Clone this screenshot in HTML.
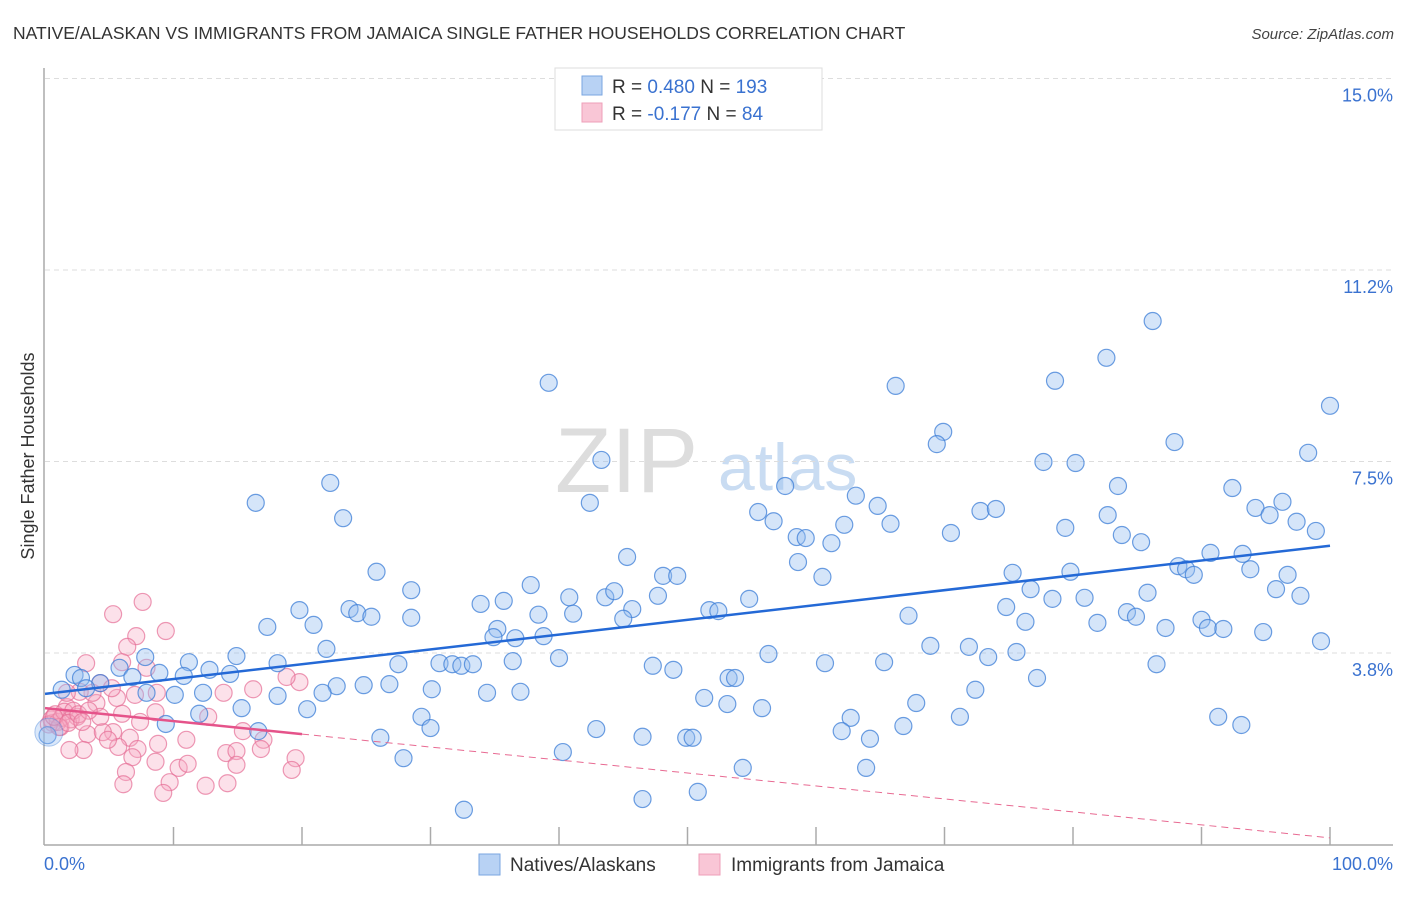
<!DOCTYPE html>
<html><head><meta charset="utf-8"><style>
body{margin:0;background:#fff;font-family:"Liberation Sans",sans-serif}
svg text{font-family:"Liberation Sans",sans-serif}
</style></head><body>
<svg id="chart" width="1406" height="892" viewBox="0 0 1406 892">
<text x="13" y="39" font-size="17.5" fill="#333">NATIVE/ALASKAN VS IMMIGRANTS FROM JAMAICA SINGLE FATHER HOUSEHOLDS CORRELATION CHART</text>
<text x="1394" y="39" font-size="15" fill="#444" font-style="italic" text-anchor="end">Source: ZipAtlas.com</text>
<text transform="translate(34,456) rotate(-90)" font-size="18" fill="#333" text-anchor="middle">Single Father Households</text>
<g>
<text x="555" y="492" font-size="92" fill="#ddd" font-family="Liberation Serif,serif">ZIP</text>
<text x="718" y="490" font-size="66" fill="#c9dcf2">atlas</text>
</g>
<g id="grid"></g>
<g id="axes"></g>
<g id="pink"></g>
<g id="blue"></g>
<g id="trends"></g>
<g>
<rect x="555" y="68" width="267" height="62" fill="#fff" stroke="#ddd"/>
<rect x="582" y="76" width="20" height="19" fill="#b8d2f4" stroke="#7aa6e0"/>
<rect x="582" y="103" width="20" height="19" fill="#f9c6d6" stroke="#ee9fb8"/>
<text x="612" y="93" font-size="19" fill="#333">R = <tspan fill="#3a72d0">0.480</tspan>   N = <tspan fill="#3a72d0">193</tspan></text>
<text x="612" y="120" font-size="19" fill="#333">R = <tspan fill="#3a72d0">-0.177</tspan>   N = <tspan fill="#3a72d0"> 84</tspan></text>
</g>
<g>
<rect x="479" y="854" width="21" height="21" fill="#b8d2f4" stroke="#7aa6e0"/>
<text x="510" y="871" font-size="19" fill="#333">Natives/Alaskans</text>
<rect x="699" y="854" width="21" height="21" fill="#f9c6d6" stroke="#ee9fb8"/>
<text x="731" y="871" font-size="19" fill="#333">Immigrants from Jamaica</text>
</g>
</svg>
<script>
const NS="http://www.w3.org/2000/svg";
const yTicks=[3.75,7.5,11.25,15];
const yTickLabels=["3.8%","7.5%","11.2%","15.0%"];
const xTickVals=[0,10,20,30,40,50,60,70,80,90,100];
const blueX=[86.2,82.6,39.2,66.2,78.6,100,69.9,69.4,87.9,43.3,98.3,77.7,80.2,22.2,57.6,83.5,92.4,63.1,16.4,42.4,64.8,96.3,55.5,72.8,74.0,94.2,95.3,82.7,23.2,56.7,65.8,62.2,97.4,98.9,79.4,70.5,83.8,58.5,59.2,85.3,61.2,45.3,90.7,93.2,58.6,88.2,93.8,25.8,88.8,89.4,48.1,49.2,75.3,60.5,79.8,96.7,37.8,28.5,76.7,85.8,95.8,78.4,80.9,43.6,40.8,44.3,35.7,47.7,33.9,45.7,54.8,19.8,23.7,24.3,51.7,52.4,97.7,74.8,84.2,84.9,28.5,38.4,41.1,67.2,45.0,25.4,20.9,17.3,76.3,81.9,90.0,90.5,87.2,91.7,94.8,35.2,34.9,36.6,38.8,99.3,21.9,68.9,71.9,14.9,56.3,75.6,11.2,18.1,40.0,27.5,30.7,31.7,32.4,33.3,36.4,47.3,48.9,60.7,65.3,73.4,86.5,7.8,5.8,2.3,2.8,4.3,12.8,14.4,6.8,10.8,8.9,77.2,22.7,24.8,26.8,30.1,34.4,37.0,21.6,18.1,1.3,3.2,7.9,10.1,12.3,53.2,53.7,72.4,51.3,67.8,53.1,55.8,20.4,15.3,12.0,29.3,91.3,62.7,71.2,30.0,42.9,46.5,49.9,50.4,62.0,64.2,66.8,93.1,26.1,16.6,9.4,40.3,27.9,54.3,63.9,32.6,46.5,50.8,0.2];
const blueY=[10.25,9.53,9.04,8.98,9.08,8.59,8.08,7.84,7.88,7.53,7.67,7.49,7.47,7.08,7.02,7.02,6.98,6.83,6.69,6.69,6.63,6.71,6.51,6.53,6.57,6.59,6.45,6.45,6.39,6.33,6.28,6.26,6.32,6.14,6.20,6.10,6.06,6.02,6.00,5.92,5.90,5.63,5.71,5.69,5.53,5.45,5.39,5.34,5.39,5.28,5.26,5.26,5.32,5.24,5.34,5.28,5.08,4.98,5.00,4.93,5.00,4.81,4.83,4.84,4.84,4.96,4.77,4.87,4.71,4.61,4.81,4.59,4.61,4.53,4.59,4.57,4.87,4.65,4.55,4.46,4.44,4.50,4.52,4.48,4.42,4.46,4.30,4.26,4.36,4.34,4.40,4.24,4.24,4.22,4.16,4.22,4.06,4.04,4.08,3.98,3.83,3.89,3.87,3.69,3.73,3.77,3.57,3.55,3.65,3.53,3.55,3.53,3.50,3.53,3.59,3.50,3.42,3.55,3.57,3.67,3.53,3.67,3.46,3.32,3.26,3.16,3.42,3.34,3.28,3.30,3.36,3.26,3.10,3.12,3.14,3.04,2.97,2.99,2.97,2.91,3.03,3.06,2.97,2.93,2.97,3.26,3.26,3.03,2.87,2.77,2.75,2.67,2.65,2.67,2.56,2.50,2.50,2.48,2.50,2.28,2.26,2.11,2.09,2.09,2.22,2.07,2.32,2.34,2.09,2.22,2.36,1.81,1.69,1.50,1.50,0.68,0.89,1.03,2.14];
const pinkX=[7.6,5.3,7.1,9.4,6.4,3.2,6.0,7.9,16.2,13.9,19.8,18.8,7.0,8.7,5.6,12.7,7.4,8.6,15.4,17.0,16.8,11.0,8.8,5.3,6.6,5.7,7.2,6.8,3.3,3.0,1.9,8.6,10.4,11.1,14.1,14.9,14.9,19.5,19.2,6.3,6.1,9.7,9.2,12.5,14.2,4.5,4.9,4.0,2.5,1.7,1.2,0.6,6.0,4.3,3.7,2.7,1.7,0.5,0.8,1.0,1.3,1.5,0.3,2.0,1.1,2.2,0.7,1.8,2.6,3.4,2.9,4.3,5.2];
const pinkY=[4.75,4.51,4.08,4.18,3.87,3.55,3.57,3.46,3.04,2.97,3.18,3.28,2.93,2.97,2.87,2.50,2.40,2.59,2.22,2.05,1.87,2.05,1.97,2.20,2.09,1.91,1.87,1.71,2.16,1.85,1.85,1.62,1.50,1.58,1.79,1.83,1.56,1.69,1.46,1.42,1.18,1.22,1.01,1.15,1.20,2.20,2.05,2.77,2.50,2.69,2.30,2.38,2.56,2.50,2.97,2.99,2.97,2.45,2.55,2.40,2.48,2.60,2.35,2.45,2.30,2.62,2.50,2.38,2.55,2.62,2.40,3.16,3.06];
const blueTrend=[2.95,5.85];
const pinkTrend=[2.67,0.13];
const pinkSolidEnd=20;
const X0=45,X1=1330,Y0=844.5,YPER=51.07;
const sx=v=>X0+(X1-X0)*v/100;
const sy=v=>Y0-v*YPER;
function mk(tag,attrs,parent){const e=document.createElementNS(NS,tag);for(const k in attrs)e.setAttribute(k,attrs[k]);parent.appendChild(e);return e;}
const grid=document.getElementById('grid'),axes=document.getElementById('axes');
yTicks.forEach((t,i)=>{
 const l=mk('line',{x1:45,x2:1393,y1:sy(t),y2:sy(t),stroke:'#ddd','stroke-dasharray':'5,4'},grid);
 
 
 const tx=mk('text',{x:1393,y:sy(t)+23,'font-size':18,fill:'#3a72d0','text-anchor':'end'},grid);
 tx.textContent=yTickLabels[i];
 
 
});
const ax=mk('line',{x1:44,x2:44,y1:68,y2:845,stroke:'#aaa','stroke-width':1.5},axes);


const bx=mk('line',{x1:44,x2:1393,y1:845,y2:845,stroke:'#aaa','stroke-width':1.5},axes);


xTickVals.forEach(v=>{if(v===0)return;
 const t=mk('line',{x1:sx(v),x2:sx(v),y1:827,y2:845,stroke:'#aaa','stroke-width':1.5},axes);
 
 
});
const xl0=mk('text',{x:44,y:870,'font-size':18,fill:'#3a72d0'},axes);xl0.textContent='0.0%';


const xl1=mk('text',{x:1393,y:870,'font-size':18,fill:'#3a72d0','text-anchor':'end'},axes);xl1.textContent='100.0%';


const pg=document.getElementById('pink');
pinkX.forEach((x,i)=>{
 const c=mk('circle',{cx:sx(x),cy:sy(pinkY[i]),r:8.5,fill:'rgba(247,170,195,0.35)',stroke:'rgba(230,110,150,0.7)','stroke-width':1.2},pg);
 
 
});
const bg=document.getElementById('blue');
blueX.forEach((x,i)=>{
 const c=mk('circle',{cx:sx(x),cy:sy(blueY[i]),r:8.5,fill:'rgba(150,190,240,0.4)',stroke:'rgba(60,125,215,0.75)','stroke-width':1.2},bg);
 
 
});
const big=mk('circle',{cx:sx(0.3),cy:sy(2.2),r:14,fill:'rgba(150,190,240,0.35)',stroke:'rgba(60,125,215,0.4)'},bg);


const tg=document.getElementById('trends');
const pAt=v=>pinkTrend[0]+(pinkTrend[1]-pinkTrend[0])*v/100;
const pd=mk('line',{x1:sx(pinkSolidEnd),y1:sy(pAt(pinkSolidEnd)),x2:sx(100),y2:sy(pinkTrend[1]),stroke:'#e86a92','stroke-width':1,'stroke-dasharray':'7,5'},tg);


const ps=mk('line',{x1:sx(0),y1:sy(pinkTrend[0]),x2:sx(pinkSolidEnd),y2:sy(pAt(pinkSolidEnd)),stroke:'#e5538a','stroke-width':2.5},tg);


const bl=mk('line',{x1:sx(0),y1:sy(blueTrend[0]),x2:sx(100),y2:sy(blueTrend[1]),stroke:'#2469d6','stroke-width':2.5},tg);


</script>
</body></html>
